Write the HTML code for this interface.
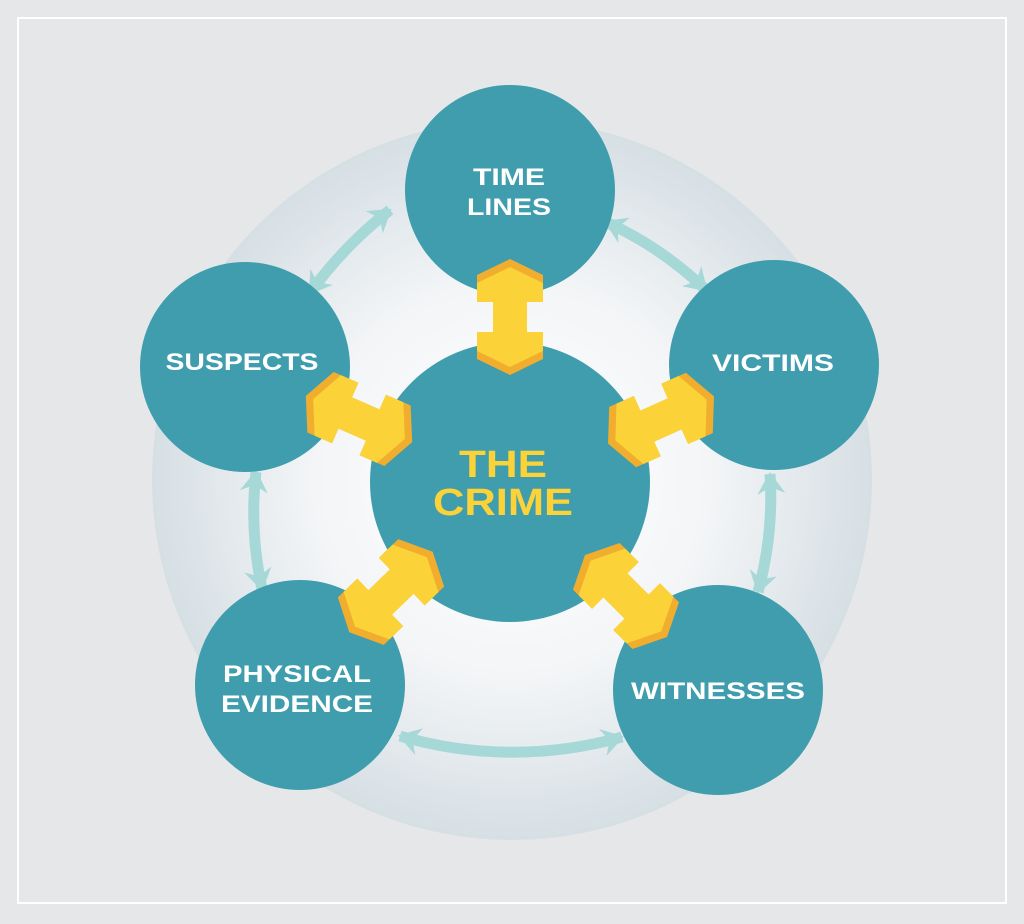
<!DOCTYPE html>
<html><head><meta charset="utf-8"><style>
html,body{margin:0;padding:0;background:#e6e7e8;}
svg{display:block}
text{font-family:"Liberation Sans",sans-serif;font-weight:bold;}
</style></head><body>
<svg width="1024" height="924" viewBox="0 0 1024 924" xmlns="http://www.w3.org/2000/svg">
<defs>
<radialGradient id="bg" cx="512" cy="480" r="360" gradientUnits="userSpaceOnUse">
<stop offset="0" stop-color="#ffffff"/>
<stop offset="0.55" stop-color="#f3f5f7"/>
<stop offset="1" stop-color="#d6dfe4"/>
</radialGradient>
<g id="ya">
<polygon fill="#f0ad2e" points="0,-58 33,-42 33,-15 17,-15 17,15 33,15 33,42 0,58 -33,42 -33,15 -17,15 -17,-15 -33,-15 -33,-42"/>
<polygon fill="#fbd338" points="0,-50 33,-34 33,-15 17,-15 17,15 33,15 33,34 0,50 -33,34 -33,15 -17,15 -17,-15 -33,-15 -33,-34"/>
</g>
<marker id="th" viewBox="-22 -15 24 30" markerWidth="24" markerHeight="30" refX="0" refY="0" orient="auto-start-reverse" markerUnits="userSpaceOnUse">
<path d="M2,0 L-20,-14 L-13,0 L-20,14 Z" fill="#a6d8d8"/>
</marker>
</defs>
<rect width="1024" height="924" fill="#e6e7e8"/>
<rect x="18" y="18" width="988" height="885" fill="none" stroke="#ffffff" stroke-width="2"/>
<circle cx="512" cy="480" r="360" fill="url(#bg)"/>

<g fill="none" stroke="#a6d8d8" stroke-width="11" marker-start="url(#th)" marker-end="url(#th)">
<path d="M606,222 A360,360 0 0 1 706,290"/>
<path d="M770,474 A360,360 0 0 1 758,592"/>
<path d="M622,737 A400,400 0 0 1 400,736"/>
<path d="M262,589 A360,360 0 0 1 256,472"/>
<path d="M310,293 A400,400 0 0 1 390,210"/>
</g>

<g fill="#3f9dae">
<circle cx="510" cy="482" r="140"/>
<circle cx="510" cy="190" r="105"/>
<circle cx="245" cy="367" r="105"/>
<circle cx="774" cy="365" r="105"/>
<circle cx="300" cy="685" r="105"/>
<circle cx="718" cy="690" r="105"/>
</g>

<use href="#ya" transform="translate(510,317)"/>
<use href="#ya" transform="translate(359,419) rotate(-66.5)"/>
<use href="#ya" transform="translate(661,420) rotate(66)"/>
<use href="#ya" transform="translate(391,592) rotate(-134)"/>
<use href="#ya" transform="translate(626,596) rotate(135)"/>

<g fill="#ffffff" font-size="24" text-anchor="middle">
<text x="509" y="185" textLength="72" lengthAdjust="spacingAndGlyphs">TIME</text>
<text x="509" y="215" textLength="84" lengthAdjust="spacingAndGlyphs">LINES</text>
<text x="242" y="370" textLength="153" lengthAdjust="spacingAndGlyphs">SUSPECTS</text>
<text x="773" y="371" textLength="122" lengthAdjust="spacingAndGlyphs">VICTIMS</text>
<text x="297" y="682" textLength="148" lengthAdjust="spacingAndGlyphs">PHYSICAL</text>
<text x="297" y="712" textLength="152" lengthAdjust="spacingAndGlyphs">EVIDENCE</text>
<text x="718" y="699" textLength="174" lengthAdjust="spacingAndGlyphs">WITNESSES</text>
</g>
<g fill="#fbd338" font-size="38" text-anchor="middle">
<text x="503" y="477" textLength="88" lengthAdjust="spacingAndGlyphs">THE</text>
<text x="503" y="515" textLength="140" lengthAdjust="spacingAndGlyphs">CRIME</text>
</g>
</svg>
</body></html>
